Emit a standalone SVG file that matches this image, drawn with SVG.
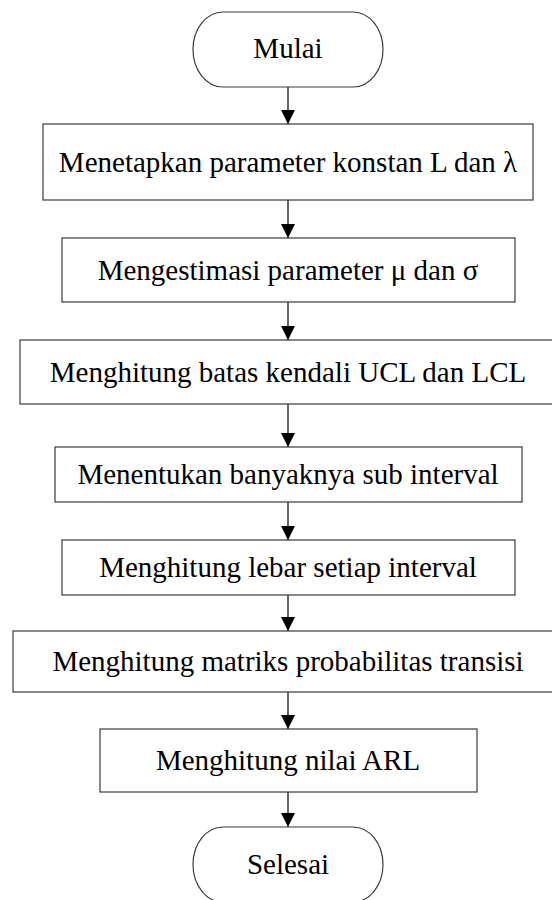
<svg xmlns="http://www.w3.org/2000/svg" width="552" height="900" viewBox="0 0 552 900">
<style>
.shape{fill:#fff;stroke:#3a3a3a;stroke-width:1.2}
.lbl{font-family:"Liberation Serif","Times New Roman",serif;font-size:29px;fill:#000;text-anchor:middle}
.conn{stroke:#000;stroke-width:1.2;fill:none}
</style>
<defs>
<marker id="arr" markerUnits="userSpaceOnUse" markerWidth="14" markerHeight="14" refX="14" refY="7" orient="auto">
<path d="M0,0 L14,7 L0,14 z" fill="#000"/>
</marker>
</defs>
<rect width="552" height="900" fill="#fff"/>
<g id="connectors">
<line class="conn" x1="288" y1="87" x2="288" y2="124" marker-end="url(#arr)"/>
<line class="conn" x1="288" y1="200" x2="288" y2="238" marker-end="url(#arr)"/>
<line class="conn" x1="288" y1="302" x2="288" y2="340" marker-end="url(#arr)"/>
<line class="conn" x1="288" y1="404" x2="288" y2="447" marker-end="url(#arr)"/>
<line class="conn" x1="288" y1="502" x2="288" y2="540" marker-end="url(#arr)"/>
<line class="conn" x1="288" y1="595" x2="288" y2="631" marker-end="url(#arr)"/>
<line class="conn" x1="288" y1="692" x2="288" y2="729" marker-end="url(#arr)"/>
<line class="conn" x1="288" y1="792" x2="288" y2="827" marker-end="url(#arr)"/>
</g>
<g id="mulai">
<rect class="shape" x="193" y="12" width="190" height="75" rx="30" ry="37.5"/>
<text class="lbl" x="288" y="57.5">Mulai</text>
</g>
<g id="step1">
<rect class="shape" x="43" y="124" width="490" height="76"/>
<text class="lbl" x="288" y="171.5">Menetapkan parameter konstan L dan λ</text>
</g>
<g id="step2">
<rect class="shape" x="62" y="238" width="453" height="64"/>
<text class="lbl" x="288" y="279.5">Mengestimasi parameter μ dan σ</text>
</g>
<g id="step3">
<rect class="shape" x="20" y="340" width="537" height="64"/>
<text class="lbl" x="288" y="381.5">Menghitung batas kendali UCL dan LCL</text>
</g>
<g id="step4">
<rect class="shape" x="55" y="447" width="467" height="55"/>
<text class="lbl" x="288" y="484">Menentukan banyaknya sub interval</text>
</g>
<g id="step5">
<rect class="shape" x="62" y="540" width="453" height="55"/>
<text class="lbl" x="288" y="577">Menghitung lebar setiap interval</text>
</g>
<g id="step6">
<rect class="shape" x="13" y="631" width="551" height="61"/>
<text class="lbl" x="288" y="671">Menghitung matriks probabilitas transisi</text>
</g>
<g id="step7">
<rect class="shape" x="100" y="729" width="377" height="63"/>
<text class="lbl" x="288" y="770">Menghitung nilai ARL</text>
</g>
<g id="selesai">
<rect class="shape" x="193" y="827" width="190" height="75" rx="30" ry="37.5"/>
<text class="lbl" x="288" y="874">Selesai</text>
</g>
</svg>
